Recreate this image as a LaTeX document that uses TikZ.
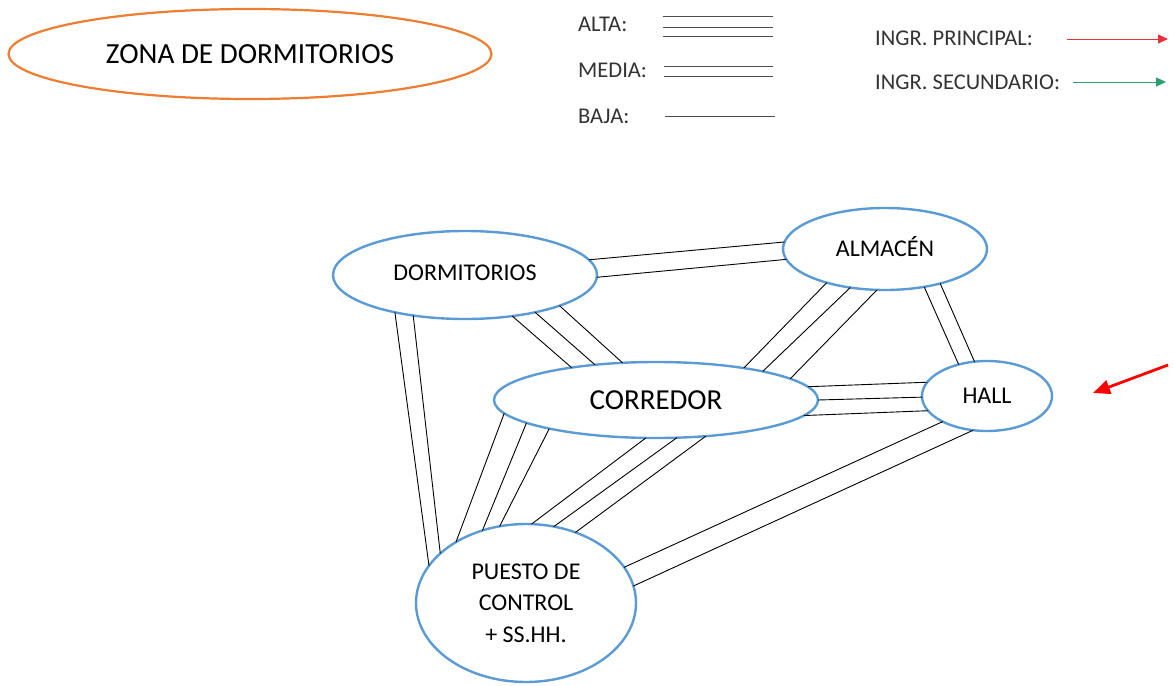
\documentclass[tikz,border=0pt]{standalone}
\usepackage{fontspec}
\setmainfont{Carlito}
\usetikzlibrary{shapes.geometric,arrows.meta}
\definecolor{nodeblue}{HTML}{5B9BD5}
\definecolor{zoneorange}{HTML}{ED7D31}
\definecolor{ingrred}{HTML}{E8303A}
\definecolor{ingrgreen}{HTML}{2E9E6E}
\begin{document}
\begin{tikzpicture}[x=1pt,y=-1pt,
  zone/.style={ellipse, draw=zoneorange, line width=2.2pt, inner sep=0pt, outer sep=0pt, font=\fontsize{29.2}{34}\selectfont},
  space/.style={ellipse, draw=nodeblue, line width=2.4pt, inner sep=0pt, outer sep=0pt, font=\fontsize{24}{31.5}\selectfont, align=center},
  link/.style={black, line width=0.9pt},
  legtext/.style={anchor=west, inner sep=0pt, text=black!80, font=\fontsize{22.5}{26}\selectfont},
  legline/.style={black!70, line width=1pt},
  ingr/.style={line width=0.8pt, -{Triangle[length=10pt,width=9pt]}}
]
\useasboundingbox (0,0) rectangle (1174,685);
\fill[white] (0,0) rectangle (1174,685);

% title
\node[zone, minimum width=483pt, minimum height=90pt] (zona) at (250,54) {ZONA DE DORMITORIOS};

% legend
\node[legtext] (alta) at (578,24) {ALTA:};
\node[legtext] (media) at (578,70) {MEDIA:};
\node[legtext] (baja) at (578,116) {BAJA:};
\draw[legline] (663,17) -- (773,17);
\draw[legline] (663,28) -- (773,28);
\draw[legline] (663,37) -- (773,37);
\draw[legline] (664,66) -- (773,66);
\draw[legline] (664,76) -- (773,76);
\draw[legline] (665,116) -- (775,116);
\node[legtext] (ip) at (875,38) {INGR. PRINCIPAL:};
\node[legtext] (is) at (875,82) {INGR. SECUNDARIO:};
\draw[ingr, ingrred] (1067,39) -- (1168,39);
\draw[ingr, ingrgreen] (1073,82) -- (1166,82);

% spaces
\node[space, minimum width=264pt, minimum height=88pt, text depth=4pt] (dorm) at (465,275) {DORMITORIOS};
\node[space, minimum width=204pt, minimum height=82pt, text height=15.5pt] (alm) at (885,249) {ALMACÉN};
\node[space, minimum width=130pt, minimum height=70pt] (hall) at (987,396) {HALL};
\node[space, minimum width=324pt, minimum height=76pt, font=\fontsize{29}{34}\selectfont] (corr) at (656,400) {CORREDOR};
\node[space, minimum width=220pt, minimum height=158pt] (ctrl) at (526,603) {PUESTO DE\\CONTROL\\+ SS.HH.};

% links
\draw[link] (dorm.7) -- (alm.176);
\draw[link] (dorm.-1) -- (alm.186);
\draw[link] (dorm.-41) -- (corr.159);
\draw[link] (dorm.-28) -- (corr.150);
\draw[link] (dorm.-18) -- (corr.132);
\draw[link] (dorm.208) -- (ctrl.159);
\draw[link] (dorm.218) -- (ctrl.150);
\draw[link] (alm.210) -- (corr.20);
\draw[link] (alm.228) -- (corr.15);
\draw[link] (alm.259) -- (corr.9);
\draw[link] (alm.-44) -- (hall.132);
\draw[link] (alm.-32) -- (hall.110);
\draw[link] (corr.5) -- (hall.167);
\draw[link] (corr.0) -- (hall.181);
\draw[link] (corr.-6) -- (hall.194);
\draw[link] (corr.185) -- (ctrl.139);
\draw[link] (corr.190) -- (ctrl.121);
\draw[link] (corr.195) -- (ctrl.109);
\draw[link] (corr.255) -- (ctrl.86);
\draw[link] (corr.299) -- (ctrl.70);
\draw[link] (corr.324) -- (ctrl.55);
\draw[link] (hall.210) -- (ctrl.20);
\draw[link] (hall.248) -- (ctrl.9);

% main entrance arrow
\coordinate (entryfrom) at (1168,365);
\coordinate (entryto) at (1093,393);
\draw[red, line width=2.8pt, -{Triangle[length=17pt,width=14pt]}] (entryfrom) -- (entryto);
\end{tikzpicture}
\end{document}
